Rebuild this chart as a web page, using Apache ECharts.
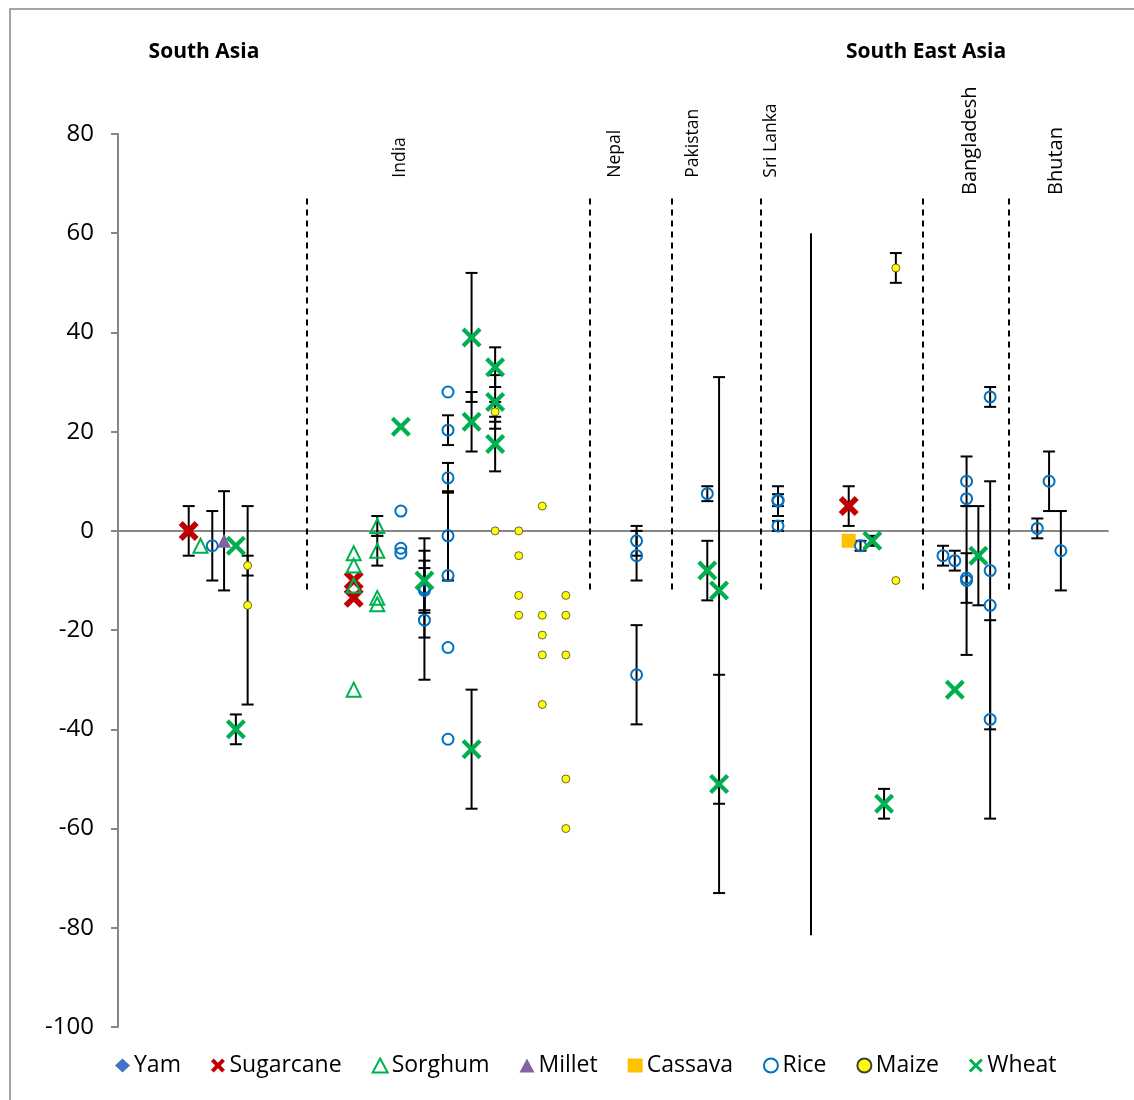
<!DOCTYPE html>
<html>
<head>
<meta charset="utf-8">
<script src="https://cdn.jsdelivr.net/npm/echarts@6/dist/echarts.min.js"></script>
<style>
html,body{margin:0;padding:0;background:#fff;}
#chart{width:1134px;height:1100px;}
</style>
</head>
<body>
<div id="chart"></div>
<script>
// [x position, value, error (±)]
const yam = [];
const sugarcane = [[6,0,5],[20,-10,0],[20,-13.5,0],[62,5,4]];
const sorghum = [[7,-3,0],[20,-4.5,0],[20,-7,0],[20,-11,0],[20,-32,0],[22,1,2],[22,-4,3],[22,-13.5,0],[22,-14.8,0]];
const millet = [[9,-2,10]];
const cassava = [[62,-2,0]];
const rice = [[8,-3,7],[24,4,0],[24,-3.5,0],[24,-4.5,0],[26,-11.5,10],[26,-12,4.5],[26,-18,12],
  [28,28,0],[28,20.3,3],[28,10.7,3],[28,-1,9],[28,-9,0],[28,-23.5,0],[28,-42,0],
  [44,-2,3],[44,-5,5],[44,-29,10],[50,7.5,1.5],[56,6,3],[56,6.2,1.2],[56,1,1],[63,-3,1],
  [70,-5,2],[71,-6,2],[72,10,5],[72,6.5,0],[72,-9.5,5],[72,-10,15],
  [74,27,2],[74,-8,0],[74,-15,25],[74,-38,20],[78,0.5,2],[79,10,6],[80,-4,8]];
const maize = [[11,-7,2],[11,-15,20],[32,24,2],[32,0,0],[34,0,0],[34,-5,0],[34,-13,0],[34,-17,0],
  [36,5,0],[36,-17,0],[36,-21,0],[36,-25,0],[36,-35,0],
  [38,-13,0],[38,-17,0],[38,-25,0],[38,-50,0],[38,-60,0],[66,53,3],[66,-10,0]];
const wheat = [[10,-3,0],[10,-40,3],[24,21,0],[26,-10,6],[30,39,13],[30,22,6],[30,-44,12],
  [32,33,4],[32,26,5.4],[32,17.5,5.5],[50,-8,6],[51,-12,43],[51,-51,22],[64,-2,1],[65,-55,3],[71,-32,0],[73,-5,10]];

const yTicks = {min:-100, max:80, interval:20};
const xRange = {min:0, max:84};
// country separators: x position, top value, bottom value
const dashedX = [16, 40, 47, 54.5, 68.25, 75.6];
const dashedSpan = [67, -12.7];
const solidLine = {x:58.75, top:60, bottom:-81.5};
const countryLabels = [
  {name:'India', x:23.9, end:71.2, size:17.5},
  {name:'Nepal', x:42.2, end:71.2, size:17.5},
  {name:'Pakistan', x:48.8, end:71.2, size:17.5},
  {name:'Sri Lanka', x:55.4, end:71.2, size:17.5},
  {name:'Bangladesh', x:72.3, end:67.7, size:20},
  {name:'Bhutan', x:79.6, end:67.7, size:20}
];
const regionLabels = [{name:'South Asia', px:204}, {name:'South East Asia', px:926}];

const FONT = 'Open Sans';
const X_WHEAT = 'path://M3,0L10,7L17,0L20,3L13,10L20,17L17,20L10,13L3,20L0,17L7,10L0,3Z';
const X_SUGAR = 'path://M4,0L10,6L16,0L20,4L14,10L20,16L16,20L10,14L4,20L0,16L6,10L0,4Z';

const crops = [
  {name:'Yam', data:yam, symbol:'diamond', size:10, legendSize:[10,14], itemStyle:{color:'#4472C4'}},
  {name:'Sugarcane', data:sugarcane, symbol:X_SUGAR, size:20, legendSize:[16,16], itemStyle:{color:'#C00000'}},
  {name:'Sorghum', data:sorghum, symbol:'triangle', size:14, legendSize:[15,14], itemStyle:{color:'rgba(0,0,0,0)', borderColor:'#00B050', borderWidth:2}},
  {name:'Millet', data:millet, symbol:'triangle', size:14, legendSize:[14,14], itemStyle:{color:'#8064A2'}},
  {name:'Cassava', data:cassava, symbol:'rect', size:14, legendSize:[14,14], itemStyle:{color:'#FFC000'}},
  {name:'Rice', data:rice, symbol:'circle', size:11, legendSize:[11,11], itemStyle:{color:'rgba(0,0,0,0)', borderColor:'#0070C0', borderWidth:2}},
  {name:'Maize', data:maize, symbol:'circle', size:8, legendSize:[9,9], itemStyle:{color:'#FFFF00', borderColor:'#404040', borderWidth:0.8}},
  {name:'Wheat', data:wheat, symbol:X_WHEAT, size:20, legendSize:[16,16], itemStyle:{color:'#00B050'}}
];

const errData = [];
crops.forEach(c => c.data.forEach(d => { if (d[2] > 0) errData.push([d[0], d[1]-d[2], d[1]+d[2]]); }));

const chart = echarts.init(document.getElementById('chart'));
const grid = {left:118, right:26, top:134, bottom:73};

const series = [];
series.push({
  type:'custom', name:'err', silent:true, z:1,
  data: errData,
  encode:{x:0, y:[1,2]},
  renderItem: function(params, api){
    const x = api.value(0), lo = api.value(1), hi = api.value(2);
    const a = api.coord([x, hi]), b = api.coord([x, lo]);
    const w = 6, st = {stroke:'#000', lineWidth:2};
    return {type:'group', children:[
      {type:'line', shape:{x1:a[0], y1:a[1], x2:b[0], y2:b[1]}, style:st},
      {type:'line', shape:{x1:a[0]-w, y1:a[1], x2:a[0]+w, y2:a[1]}, style:st},
      {type:'line', shape:{x1:b[0]-w, y1:b[1], x2:b[0]+w, y2:b[1]}, style:st}
    ]};
  }
});
series.push({
  type:'line', name:'dividers', data:[], silent:true,
  markLine:{
    silent:true, symbol:['none','none'], label:{show:false},
    lineStyle:{color:'#000', width:2, type:[6,5]},
    data: dashedX.map(x => [{coord:[x, dashedSpan[0]]},{coord:[x, dashedSpan[1]]}]).concat([
      [{coord:[solidLine.x, solidLine.top], lineStyle:{type:'solid', width:2, color:'#000'}},{coord:[solidLine.x, solidLine.bottom]}]
    ])
  }
});
crops.forEach(c => {
  series.push({
    type:'scatter', name:c.name, symbol:c.symbol, symbolSize:c.size,
    itemStyle:Object.assign({opacity:1}, c.itemStyle), z:3,
    data:c.data.map(d => [d[0], d[1]])
  });
});

chart.setOption({
  animation:false,
  grid:grid,
  xAxis:{type:'value', min:xRange.min, max:xRange.max,
    axisLine:{show:true, onZero:true, lineStyle:{color:'#868686', width:2}},
    axisTick:{show:false}, axisLabel:{show:false}, splitLine:{show:false}},
  yAxis:{type:'value', min:yTicks.min, max:yTicks.max, interval:yTicks.interval,
    axisLine:{show:true, onZero:false, lineStyle:{color:'#868686', width:2}},
    axisTick:{show:true, length:7, lineStyle:{color:'#868686', width:2}},
    axisLabel:{color:'#000', fontSize:24, fontFamily:FONT, margin:24},
    splitLine:{show:false}},
  legend:{
    data: crops.map(c => ({name:c.name, itemStyle:{opacity:1}})), left:110, top:1049, itemWidth:15, itemHeight:14, itemGap:30,
    selectedMode:false,
    textStyle:{fontSize:23, fontFamily:FONT, color:'#000', padding:[0,0,0,-1]}
  },
  series:series
});

const graphics = [
  {type:'rect', shape:{x:10, y:9, width:1140, height:1120}, style:{fill:'none', stroke:'#868686', lineWidth:1.5}, silent:true, z:0}
];
regionLabels.forEach(r => graphics.push({
  type:'text', x:r.px, y:52, style:{text:r.name, fontSize:21, fontWeight:'bold', fontFamily:FONT, fill:'#000', align:'center', verticalAlign:'middle'}
}));
countryLabels.forEach(l => {
  const p = chart.convertToPixel({xAxisIndex:0, yAxisIndex:0}, [l.x, l.end]);
  graphics.push({type:'text', x:p[0], y:p[1], rotation:Math.PI/2,
    style:{text:l.name, fontSize:l.size, fontFamily:FONT, fill:'#000', align:'left', verticalAlign:'middle'}});
});
chart.setOption({graphic:graphics});
</script>
</body>
</html>
